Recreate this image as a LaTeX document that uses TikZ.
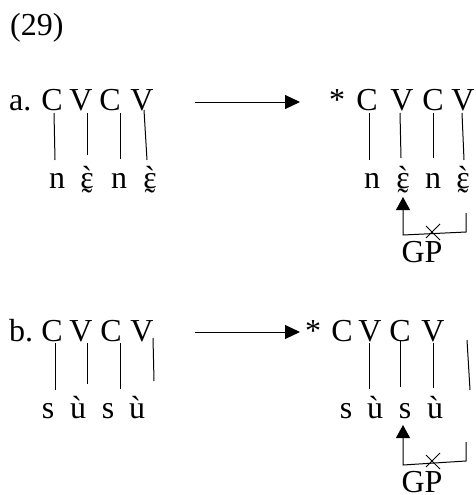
\documentclass[tikz,border=0pt]{standalone}
\usepackage{fontspec}
\setmainfont{Liberation Serif}
\newfontfamily\rawfont[Ligatures=TeXOff]{Liberation Serif}
\usetikzlibrary{arrows.meta,calc}
\newcommand{\eps}{\ooalign{ɛ\cr\hidewidth{\rawfont `}\hidewidth\cr\hidewidth\raisebox{-0.7em}{\rawfont ^^^^02dc}\hidewidth\cr}}
\begin{document}
\begin{tikzpicture}[x=1pt,y=-1pt,
  every node/.style={inner sep=0pt,font=\fontsize{32}{38}\selectfont},
  lt/.style={anchor=base},
  assoc/.style={line width=1pt},
  rulearrow/.style={line width=1pt,-{Triangle[length=15pt,width=14pt]}},
  gparrow/.style={line width=1pt,-{Triangle[length=13pt,width=14pt]}},
  cross/.style={line width=0.9pt}]
\useasboundingbox (0,0) rectangle (475,495);
\node[anchor=base west] (num) at (10,36) {(29)};
% ---------- a ----------
\node[anchor=base west] (la) at (9,110) {a.};
\foreach \n/\x/\t in {1/52/C,2/81/V,3/110/C,4/142/V}{\node[lt] (aL\n) at (\x,110) {\t};}
\foreach \n/\x/\t in {1/57/n,2/87/\eps,3/119/n,4/150/\eps}{\node[lt] (aLb\n) at (\x,188) {\t};}
\node[lt] (aS) at (337,110) {*};
\foreach \n/\x/\t in {1/367/C,2/402/V,3/433/C,4/463/V}{\node[lt] (aR\n) at (\x,110) {\t};}
\foreach \n/\x/\t in {1/372/n,2/403/\eps,3/433/n,4/463/\eps}{\node[lt] (aRb\n) at (\x,188) {\t};}
\foreach \n/\xa/\ya/\xb/\yb in {1/54/113/55/160,2/87/113/87/155,3/120/113/120/159,4/144/110/147/160,
  5/369/113/369/160,6/400/113/401/158,7/433/113/433/158,8/462/113/464/160}{
  \coordinate (at\n) at (\xa,\ya); \coordinate (ab\n) at (\xb,\yb);
  \draw[assoc] (at\n) -- (ab\n);}
\coordinate (aA1) at (195,102); \coordinate (aA2) at (300,102);
\draw[rulearrow] (aA1) -- (aA2);
\coordinate (ag1) at (466,213); \coordinate (ag2) at (466,232);
\coordinate (ag3) at (403,235); \coordinate (ag4) at (403,197);
\draw[gparrow] (ag1) -- (ag2) -- (ag3) -- (ag4);
\coordinate (ax) at (433,233);
\draw[cross] ($(ax)+(-7,-7)$) -- ($(ax)+(7,7)$) ($(ax)+(7,-9)$) -- ($(ax)+(-7,5)$);
\node[lt] (gpa) at (422,262) {GP};
% ---------- b ----------
\node[anchor=base west] (lb) at (9,341) {b.};
\foreach \n/\x/\t in {1/52/C,2/81/V,3/111/C,4/142/V}{\node[lt] (bL\n) at (\x,341) {\t};}
\foreach \n/\x/\t in {1/48/s,2/78/ù,3/108/s,4/137/ù}{\node[lt] (bLb\n) at (\x,418) {\t};}
\node[lt] (bS) at (313,341) {*};
\foreach \n/\x/\t in {1/342/C,2/370/V,3/400/C,4/433/V}{\node[lt] (bR\n) at (\x,341) {\t};}
\foreach \n/\x/\t in {1/346/s,2/375/ù,3/405/s,4/435/ù}{\node[lt] (bRb\n) at (\x,418) {\t};}
\foreach \n/\xa/\ya/\xb/\yb in {1/55/343/55/390,2/87/343/87/384,3/120/343/120/389,4/153/338/154/381,
  5/369/343/369/389,6/400/340/400/387,7/433/343/433/388,8/467/340/470/390}{
  \coordinate (bt\n) at (\xa,\ya); \coordinate (bb\n) at (\xb,\yb);
  \draw[assoc] (bt\n) -- (bb\n);}
\coordinate (bA1) at (195,332); \coordinate (bA2) at (300,332);
\draw[rulearrow] (bA1) -- (bA2);
\coordinate (bg1) at (466,442); \coordinate (bg2) at (466,461);
\coordinate (bg3) at (403,465); \coordinate (bg4) at (403,425);
\draw[gparrow] (bg1) -- (bg2) -- (bg3) -- (bg4);
\coordinate (bx) at (433,462);
\draw[cross] ($(bx)+(-7,-7)$) -- ($(bx)+(7,7)$) ($(bx)+(7,-9)$) -- ($(bx)+(-7,5)$);
\node[lt] (gpb) at (422,492) {GP};
\end{tikzpicture}
\end{document}
